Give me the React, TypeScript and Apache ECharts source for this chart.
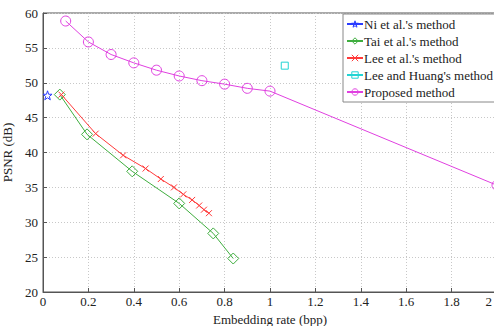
import React, { useEffect, useRef } from "react";
import * as echarts from "echarts";

const xTicks = [0, 0.2, 0.4, 0.6, 0.8, 1, 1.2, 1.4, 1.6, 1.8, 2];
const niData: [number, number][] = [[0.02, 48.2]];
const taiData: [number, number][] = [
  [0.074, 48.3], [0.194, 42.6], [0.393, 37.3], [0.6, 32.7], [0.75, 28.4], [0.838, 24.8],
];
const leeData: [number, number][] = [
  [0.081, 48.3], [0.232, 42.7], [0.353, 39.6], [0.452, 37.7], [0.519, 36.2], [0.577, 35.0],
  [0.618, 34.0], [0.657, 33.2], [0.688, 32.4], [0.709, 31.8], [0.731, 31.3],
];
const leeHuangData: [number, number][] = [[1.065, 52.45]];
const proposedData: [number, number][] = [
  [0.1, 58.85], [0.2, 55.85], [0.3, 54.05], [0.4, 52.85], [0.5, 51.8], [0.6, 50.97],
  [0.7, 50.3], [0.8, 49.8], [0.9, 49.2], [1.0, 48.8], [2.0, 35.3],
];
const seriesNames = [
  "Ni et al.'s method",
  "Tai et al.'s method",
  "Lee et al.'s method",
  "Lee and Huang's method",
  "Proposed method",
];

const FONT = "Liberation Serif, Times New Roman, serif";
const STAR =
  "path://M50,0 L61.8,35.1 L97.6,34.5 L69.1,56.9 L79.4,90.5 L50,70 L20.6,90.5 L30.9,56.9 L2.4,34.5 L38.2,35.1 Z";
const CROSS = "path://M0,0 L10,10 M10,0 L0,10";
const NOFILL = "rgba(255,255,255,0)";

export default function App() {
  const ref = useRef<HTMLDivElement>(null);
  useEffect(() => {
    if (!ref.current) return;
    const chart = echarts.init(ref.current, undefined, { renderer: "svg" });
    const colors = ["#2a3cff", "#3fae3f", "#ff3a3a", "#22d4d4", "#e040e0"];
    const mk = (
      idx: number,
      data: [number, number][],
      symbol: string,
      size: number
    ) => ({
      name: seriesNames[idx],
      type: "line",
      data,
      symbol,
      symbolSize: size,
      showAllSymbol: true,
      lineStyle: { color: colors[idx], width: 1 },
      itemStyle: { color: NOFILL, borderColor: colors[idx], borderWidth: 1 },
      emphasis: { disabled: true },
      z: 3,
    });
    const lastTick = xTicks[xTicks.length - 1];
    chart.setOption({
      animation: false,
      backgroundColor: "#fff",
      textStyle: { fontFamily: FONT },
      grid: {
        left: 43,
        top: 13,
        right: -3,
        bottom: 34,
        outerBoundsMode: "none",
        containLabel: false,
        show: true,
        borderColor: "#555",
        borderWidth: 1,
        backgroundColor: "transparent",
      },
      legend: {
        left: 343,
        top: 14,
        orient: "vertical",
        backgroundColor: "#fff",
        borderColor: "#888",
        borderWidth: 1,
        borderRadius: 0,
        padding: [3, 2, 3, 3],
        itemWidth: 16,
        itemHeight: 8,
        itemGap: 3,
        textStyle: { fontFamily: FONT, fontSize: 13, color: "#222", lineHeight: 14, padding: [0, 0, 0, -4] },
        data: seriesNames.map((n, i) => ({
          name: n,
          itemStyle: { color: NOFILL, borderColor: colors[i], borderWidth: 1 },
        })),
      },
      xAxis: {
        type: "value",
        min: 0,
        max: 2,
        interval: 0.2,
        name: "Embedding rate (bpp)",
        nameLocation: "middle",
        nameGap: 15,
        nameTextStyle: { fontFamily: FONT, fontSize: 13, color: "#222" },
        axisLine: { show: true, lineStyle: { color: "#555" } },
        axisTick: { show: true, inside: true, length: 4, lineStyle: { color: "#555" } },
        axisLabel: {
          fontFamily: FONT,
          fontSize: 13,
          color: "#222",
          margin: 3,
          alignMaxLabel: "right",
          formatter: (v: number) => {
            const s = String(parseFloat(v.toFixed(1)));
            return Math.abs(v - lastTick) < 1e-9 ? "{last|" + s + "}" : s;
          },
          rich: {
            last: { fontFamily: FONT, fontSize: 13, color: "#222", padding: [0, 5, 0, 0] },
          },
          customValues: xTicks,
        },
        splitLine: { show: true, lineStyle: { color: "#c8c8c8", type: [1, 2] } },
      },
      yAxis: {
        type: "value",
        min: 20,
        max: 60,
        interval: 5,
        name: "PSNR (dB)",
        nameLocation: "middle",
        nameGap: 20,
        nameTextStyle: { fontFamily: FONT, fontSize: 13, color: "#222" },
        axisLine: { show: true, lineStyle: { color: "#555" } },
        axisTick: { show: true, inside: true, length: 4, lineStyle: { color: "#555" } },
        axisLabel: { fontFamily: FONT, fontSize: 13, color: "#222", margin: 5 },
        splitLine: { show: true, lineStyle: { color: "#c8c8c8", type: [1, 2] } },
      },
      series: [
        mk(0, niData, STAR, 9),
        mk(1, taiData, "diamond", 11),
        mk(2, leeData, CROSS, 6),
        mk(3, leeHuangData, "rect", 7),
        mk(4, proposedData, "circle", 10),
      ],
    });
    return () => chart.dispose();
  }, []);
  return <div ref={ref} style={{ width: 494, height: 326, position: "absolute", left: 0, top: 0 }} />;
}
